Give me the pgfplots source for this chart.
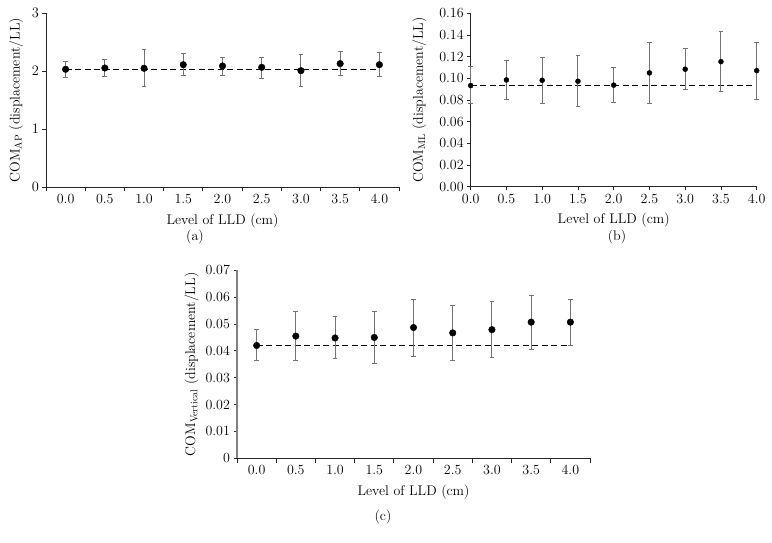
\documentclass[border=0pt]{standalone}
\usepackage{pgfplots}
\usepackage{pgfplotstable}
\pgfplotsset{compat=1.18}

\pgfplotstableread{
x y ep em
0.0 2.033 0.131 0.139
0.5 2.055 0.155 0.138
1.0 2.050 0.321 0.311
1.5 2.112 0.188 0.190
2.0 2.090 0.155 0.156
2.5 2.067 0.178 0.190
3.0 2.009 0.276 0.277
3.5 2.130 0.207 0.208
4.0 2.112 0.208 0.212
}\tableA

\pgfplotstableread{
x y ep em
0.0 0.0933 0.0175 0.0169
0.5 0.0985 0.0182 0.0178
1.0 0.0982 0.0212 0.0212
1.5 0.0973 0.0234 0.0234
2.0 0.0937 0.0165 0.0161
2.5 0.1050 0.0280 0.0284
3.0 0.1084 0.0190 0.0191
3.5 0.1154 0.0274 0.0277
4.0 0.1071 0.0259 0.0264
}\tableB

\pgfplotstableread{
x y ep em
0.0 0.0420 0.0060 0.0055
0.5 0.0455 0.0090 0.0090
1.0 0.0448 0.0081 0.0078
1.5 0.0450 0.0098 0.0098
2.0 0.0487 0.0106 0.0107
2.5 0.0467 0.0102 0.0102
3.0 0.0479 0.0105 0.0104
3.5 0.0507 0.0101 0.0102
4.0 0.0507 0.0083 0.0086
}\tableC

\newcommand{\pf}{\fontsize{14}{16}\selectfont}

\pgfplotsset{
  panel/.style={
    scale only axis,
    anchor=south west,
    axis x line*=bottom,
    axis y line*=left,
    axis line style={-, black!85, line width=0.8pt},
    tick align=outside,
    tick style={black!85, line width=0.8pt},
    major tick length=3.5pt,
    minor tick length=4.5pt,
    font=\pf,
    every tick label/.append style={font=\pf},
    scaled ticks=false,
    xlabel={Level of LLD (cm)},
    xlabel style={yshift=-3pt},
    xticklabels={0.0,0.5,1.0,1.5,2.0,2.5,3.0,3.5,4.0},
    clip=false,
  },
  cat/.style={
    xmin=-0.25, xmax=4.25,
    xtick={0,0.5,...,4},
    major x tick style={draw=none},
    minor xtick={-0.25,0.25,0.75,1.25,1.75,2.25,2.75,3.25,3.75,4.25},
  },
  errs/.style={
    only marks, mark=*, mark size=#1, black,
    error bars/.cd, y dir=both, y explicit,
    error bar style={black!55, line width=1pt},
    error mark options={rotate=90, black!55, line width=1pt, mark size=2.4pt},
  },
  errs/.default=3.3pt,
}

\begin{document}
\begin{tikzpicture}
\path[use as bounding box] (0pt,0pt) rectangle (772pt,543pt);

% (a)
\begin{axis}[panel, cat,
  at={(46pt,356pt)}, width=353pt, height=173.7pt,
  ymin=0, ymax=3, ytick={0,1,2,3},
  ylabel={COM\textsubscript{AP} (displacement/LL)},
  ylabel shift=2pt,
]
\addplot[black, dash pattern=on 6pt off 3.5pt, line width=0.9pt] coordinates {(0,2.033) (4,2.033)};
\addplot[errs] table[x=x, y=y, y error plus=ep, y error minus=em] {\tableA};
\end{axis}

% (b)
\begin{axis}[panel,
  at={(470.7pt,356.3pt)}, width=286pt, height=173.4pt,
  xmin=0, xmax=4, xtick={0,0.5,...,4},
  ymin=0, ymax=0.16, ytick={0,0.02,...,0.16},
  yticklabels={0.00,0.02,0.04,0.06,0.08,0.10,0.12,0.14,0.16},
  ylabel={COM\textsubscript{ML} (displacement/LL)},
  ylabel shift=6pt,
]
\addplot[black, dash pattern=on 6pt off 3.5pt, line width=0.9pt] coordinates {(0,0.0933) (4,0.0933)};
\addplot[errs=2.5pt] table[x=x, y=y, y error plus=ep, y error minus=em] {\tableB};
\end{axis}

% (c)
\begin{axis}[panel, cat,
  at={(237pt,84.7pt)}, width=353pt, height=188pt,
  ymin=0, ymax=0.07, ytick={0,0.01,...,0.07},
  yticklabels={0,0.01,0.02,0.03,0.04,0.05,0.06,0.07},
  ylabel={COM\textsubscript{Vertical} (displacement/LL)},
  y axis line style={black!50, line width=1.2pt},
]
\addplot[black, dash pattern=on 6pt off 3.5pt, line width=0.9pt] coordinates {(0,0.0421) (4,0.0421)};
\addplot[errs] table[x=x, y=y, y error plus=ep, y error minus=em] {\tableC};
\end{axis}

\node[font=\pf] at (195pt,306pt) {(a)};
\node[font=\pf] at (617pt,306pt) {(b)};
\node[font=\pf] at (383pt,26pt) {(c)};
\end{tikzpicture}
\end{document}
